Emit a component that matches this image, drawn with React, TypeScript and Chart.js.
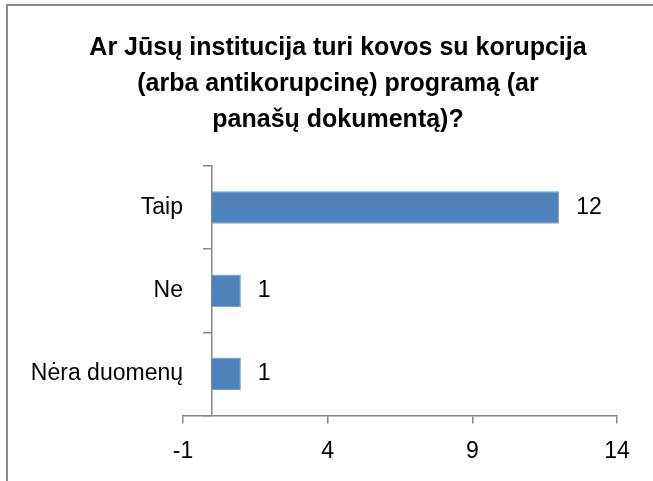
import React, { useEffect, useRef } from 'react';
import { Chart, registerables } from 'chart.js';

Chart.register(...registerables);

const titleLines = [
  'Ar Jūsų institucija turi kovos su korupcija',
  '(arba antikorupcinę) programą (ar',
  'panašų dokumentą)?',
];
const categories = ['Taip', 'Ne', 'Nėra duomenų'];
const counts = [12, 1, 1];
const xTickValues = [-1, 4, 9, 14];
const xMin = -1;
const xMax = 14;

const FONT = "'Liberation Sans', Arial, sans-serif";
const AXIS_GRAY = '#868686';

const framePlugin = {
  id: 'frame',
  beforeDraw(chart: any) {
    const { ctx, width, height } = chart;
    ctx.save();
    ctx.fillStyle = '#ffffff';
    ctx.fillRect(0, 0, width, height);
    ctx.fillStyle = '#898989';
    ctx.fillRect(6, 4, 2, height - 4);
    ctx.fillRect(6, 4, width - 6, 2);
    ctx.restore();
  },
};

const valueLabelPlugin = {
  id: 'valueLabels',
  afterDatasetsDraw(chart: any) {
    const { ctx } = chart;
    const meta = chart.getDatasetMeta(0);
    const data = chart.data.datasets[0].data as number[];
    ctx.save();
    ctx.font = `23px ${FONT}`;
    ctx.fillStyle = '#000000';
    ctx.textAlign = 'left';
    ctx.textBaseline = 'middle';
    meta.data.forEach((bar: any, i: number) => {
      ctx.fillText(String(data[i]), bar.x + 17, bar.y);
    });
    ctx.restore();
  },
};

export default function App() {
  const canvasRef = useRef<HTMLCanvasElement | null>(null);

  useEffect(() => {
    const canvas = canvasRef.current;
    if (!canvas) return;
    const chart = new Chart(canvas, {
      type: 'bar',
      data: {
        labels: categories,
        datasets: [
          {
            data: counts,
            backgroundColor: '#4f81bd',
            borderColor: '#7b9fcf',
            borderWidth: 1,
            categoryPercentage: 1,
            barPercentage: 0.39,
          },
        ],
      },
      options: {
        indexAxis: 'y',
        animation: false,
        responsive: false,
        maintainAspectRatio: false,
        layout: { padding: { left: 23, right: 0, top: 0, bottom: 2 } },
        plugins: {
          legend: { display: false },
          tooltip: { enabled: false },
          title: {
            display: true,
            text: titleLines,
            color: '#000000',
            font: { family: FONT, size: 25, weight: 'bold', lineHeight: 1.44 },
            padding: { top: 30, bottom: 28 },
          },
        },
        scales: {
          x: {
            type: 'linear',
            position: 'bottom',
            min: xMin,
            max: xMax,
            afterBuildTicks: (scale: any) => {
              scale.ticks = xTickValues.map((v) => ({ value: v }));
            },
            grid: {
              display: true,
              drawOnChartArea: false,
              drawTicks: true,
              tickLength: 8,
              color: AXIS_GRAY,
              lineWidth: 1.5,
            },
            border: { display: true, color: AXIS_GRAY, width: 1.5 },
            ticks: {
              color: '#000000',
              font: { family: FONT, size: 23 },
              padding: 14,
              maxRotation: 0,
            },
          },
          y: {
            type: 'category',
            position: 'left',
            grid: { display: false, drawTicks: false, drawOnChartArea: false },
            border: { display: false },
            ticks: {
              color: '#000000',
              font: { family: FONT, size: 23 },
              padding: 0,
            },
            afterFit: (scale: any) => {
              scale.width = 160;
            },
          },
          yAxisLine: {
            type: 'category',
            axis: 'y',
            position: { x: 0 } as any,
            offset: true,
            grid: {
              display: true,
              offset: true,
              drawOnChartArea: false,
              drawTicks: true,
              tickLength: 8,
              color: AXIS_GRAY,
              lineWidth: 1.5,
            },
            border: { display: true, color: AXIS_GRAY, width: 1.5 },
            ticks: { display: false },
          },
          rightSpace: {
            type: 'linear',
            axis: 'y',
            position: 'right',
            display: true,
            grid: { display: false, drawTicks: false },
            border: { display: false },
            ticks: { display: false },
            afterFit: (scale: any) => {
              scale.width = 36;
            },
          },
        },
      },
      plugins: [framePlugin, valueLabelPlugin],
    } as any);
    return () => chart.destroy();
  }, []);

  return (
    <div style={{ position: 'fixed', left: 0, top: 0, width: 653, height: 481, background: '#fff' }}>
      <canvas ref={canvasRef} width={653} height={481} style={{ display: 'block' }} />
    </div>
  );
}
